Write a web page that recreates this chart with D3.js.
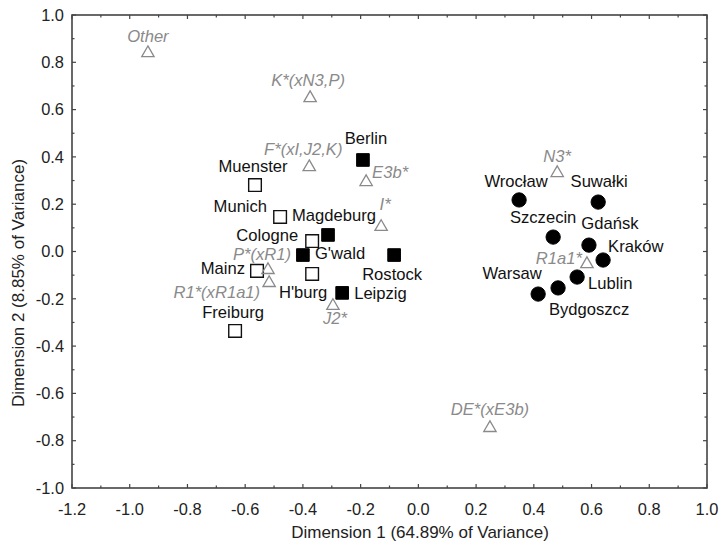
<!DOCTYPE html>
<html><head><meta charset="utf-8">
<script src="https://cdn.jsdelivr.net/npm/d3@7"></script>
<style>body{margin:0;background:#fff}svg{display:block}</style>
</head><body><svg id="c" width="721" height="545"></svg>
<script>
// ---- data ----
const haplogroups = ["Other","K*(xN3,P)","F*(xI,J2,K)","E3b*","I*","P*(xR1)","R1*(xR1a1)","J2*","N3*","R1a1*","DE*(xE3b)"];
const haploX = [-0.937,-0.375,-0.378,-0.181,-0.129,-0.521,-0.517,-0.296,0.481,0.584,0.248];
const haploY = [0.839,0.649,0.357,0.294,0.104,-0.078,-0.133,-0.230,0.332,-0.053,-0.746];

const westGerman = ["Muenster","Munich","Cologne","Mainz","H'burg","Freiburg"];
const westX = [-0.566,-0.479,-0.368,-0.559,-0.368,-0.635];
const westY = [0.281,0.146,0.044,-0.082,-0.095,-0.336];

const eastGerman = ["Berlin","Magdeburg","G'wald","Rostock","Leipzig"];
const eastX = [-0.192,-0.313,-0.400,-0.084,-0.264];
const eastY = [0.387,0.070,-0.015,-0.015,-0.175];

const polish = ["Wrocław","Suwałki","Szczecin","Gdańsk","Kraków","Lublin","Bydgoszcz","Warsaw"];
const polishX = [0.349,0.623,0.467,0.591,0.640,0.550,0.484,0.415];
const polishY = [0.218,0.209,0.061,0.027,-0.036,-0.108,-0.154,-0.180];

const xTicks = [-1.2,-1.0,-0.8,-0.6,-0.4,-0.2,0.0,0.2,0.4,0.6,0.8,1.0];
const yTicks = [-1.0,-0.8,-0.6,-0.4,-0.2,0.0,0.2,0.4,0.6,0.8,1.0];
const xTitle = "Dimension 1 (64.89% of Variance)";
const yTitle = "Dimension 2 (8.85% of Variance)";

// ---- label layout (pixel offsets, anchor) ----
const labelLayout = {
  "Other":[0,-11,"middle"], "K*(xN3,P)":[-2,-12,"middle"], "F*(xI,J2,K)":[-6,-12,"middle"],
  "E3b*":[6,-4,"start"], "I*":[4,-17,"middle"], "P*(xR1)":[-6,-10,"middle"],
  "R1*(xR1a1)":[-9,15,"end"], "J2*":[2,18,"middle"], "N3*":[0,-11,"middle"],
  "R1a1*":[-5,0,"end"], "DE*(xE3b)":[0,-13,"middle"],
  "Muenster":[-2,-13,"middle"], "Munich":[-13,-5,"end"], "Cologne":[-14,0,"end"],
  "Mainz":[-12,3,"end"], "H'burg":[-9,24,"middle"], "Freiburg":[-2,-13,"middle"],
  "Berlin":[3,-16,"middle"], "Magdeburg":[6,-14,"middle"], "G'wald":[12,4,"start"],
  "Rostock":[-2,25,"middle"], "Leipzig":[12,6,"start"],
  "Wrocław":[-3,-13,"middle"], "Suwałki":[1,-15,"middle"], "Szczecin":[-10,-14,"middle"],
  "Gdańsk":[21,-16,"middle"], "Kraków":[5,-8,"start"], "Lublin":[11,12,"start"],
  "Bydgoszcz":[31,27,"middle"], "Warsaw":[-26,-15,"middle"]
};

const svg = d3.select("#c");
const L=72, R=707, T=15, B=488;
const x = d3.scaleLinear().domain([-1.2,1.0]).range([L,R]);
const y = d3.scaleLinear().domain([-1,1]).range([B,T]);
const font = "'Liberation Sans', Arial, Helvetica, sans-serif";
const axisCol = "#444";
const fs = 16.6;

// ticks (inside), major and minor
const minorX = d3.range(-1.2,1.0001,0.1).map(v=>+v.toFixed(2));
const minorY = d3.range(-1.0,1.0001,0.1).map(v=>+v.toFixed(2));
const isMajor = (v)=>Math.abs(Math.round(v*10)%2)===0;
const tg = svg.append("g").attr("stroke",axisCol).attr("stroke-width",1.2);
minorX.forEach(v=>{
  const len = isMajor(v)?4:2.5;
  tg.append("line").attr("x1",x(v)).attr("x2",x(v)).attr("y1",B).attr("y2",B-len);
  tg.append("line").attr("x1",x(v)).attr("x2",x(v)).attr("y1",T).attr("y2",T+len);
});
minorY.forEach(v=>{
  const len = isMajor(v)?4:2.5;
  tg.append("line").attr("y1",y(v)).attr("y2",y(v)).attr("x1",L).attr("x2",L+len);
  tg.append("line").attr("y1",y(v)).attr("y2",y(v)).attr("x1",R).attr("x2",R-len);
});
svg.append("rect").attr("x",L).attr("y",T).attr("width",R-L).attr("height",B-T)
  .attr("fill","none").attr("stroke",axisCol).attr("stroke-width",1.6);

// tick labels
svg.append("g").selectAll("text").data(xTicks).join("text")
  .attr("x",d=>x(d)).attr("y",515).attr("text-anchor","middle")
  .attr("font-family",font).attr("font-size",16.4).attr("fill","#222")
  .text(d=>d3.format(".1f")(d).replace("−","-"));
svg.append("g").selectAll("text").data(yTicks).join("text")
  .attr("x",64).attr("y",d=>y(d)).attr("dy","0.35em").attr("text-anchor","end")
  .attr("font-family",font).attr("font-size",16.4).attr("fill","#222")
  .text(d=>d3.format(".1f")(d).replace("−","-"));

// axis titles
svg.append("text").attr("x",420).attr("y",538).attr("text-anchor","middle")
  .attr("font-family",font).attr("font-size",17).attr("fill","#222").text(xTitle);
svg.append("text").attr("transform","translate(24,283) rotate(-90)").attr("text-anchor","middle")
  .attr("font-family",font).attr("font-size",17).attr("fill","#222").text(yTitle);

// marks
const grey = "#8a8a8a";
const tri = d3.symbol().type(d3.symbolTriangle).size(66);
const sq = d3.symbol().type(d3.symbolSquare).size(160);
const circ = d3.symbol().type(d3.symbolCircle).size(160);

function drawGroup(names, xs, ys, sym, fill, stroke, sw, textCol, italic){
  const data = names.map((n,i)=>({n, x:xs[i], y:ys[i]}));
  const g = svg.append("g");
  g.selectAll("path").data(data).join("path")
    .attr("d",sym).attr("transform",d=>`translate(${x(d.x)},${y(d.y)})`)
    .attr("fill",fill).attr("stroke",stroke).attr("stroke-width",sw);
  g.selectAll("text").data(data).join("text")
    .attr("x",d=>x(d.x)+labelLayout[d.n][0]).attr("y",d=>y(d.y)+labelLayout[d.n][1])
    .attr("text-anchor",d=>labelLayout[d.n][2])
    .attr("font-family",font).attr("font-size",fs).attr("fill",textCol)
    .attr("font-style",italic?"italic":"normal").text(d=>d.n);
}
drawGroup(westGerman, westX, westY, sq, "#fff", "#111", 1.4, "#111", false);
drawGroup(eastGerman, eastX, eastY, sq, "#000", "#000", 1, "#111", false);
drawGroup(polish, polishX, polishY, circ, "#000", "#000", 1, "#111", false);
drawGroup(haplogroups, haploX, haploY, tri, "none", grey, 1.3, grey, true);
</script></body></html>
